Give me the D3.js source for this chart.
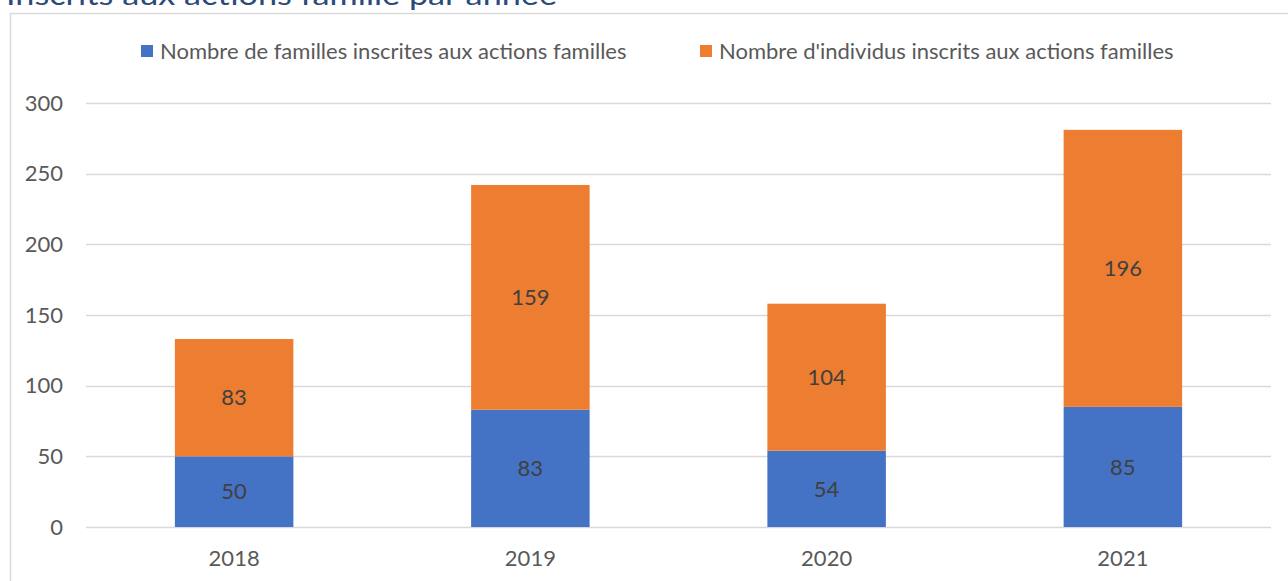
<!DOCTYPE html>
<html>
<head>
<meta charset="utf-8">
<script src="https://cdn.jsdelivr.net/npm/d3@7"></script>
<style>
  body { margin: 0; background: #fff; }
  svg { display: block; font-family: Lato, "Open Sans", sans-serif; }
</style>
</head>
<body>
<svg id="chart" width="1288" height="581"></svg>
<script>
// data
var years = ['2018', '2019', '2020', '2021'];
var familles = [50, 83, 54, 85];
var individus = [83, 159, 104, 196];
var seriesNames = ['Nombre de familles inscrites aux actions familles', "Nombre d'individus inscrits aux actions familles"];
var seriesColors = ['#4472C4', '#ED7D31'];
var yTicks = [0, 50, 100, 150, 200, 250, 300];

var svg = d3.select('#chart');
var textColor = '#595959';
var fontSize = 22;

// title (cut off at the top, as in the source)
svg.append('text')
    .attr('x', 6).attr('y', 5)
    .attr('fill', '#2b4a7c')
    .attr('font-size', 29)
    .attr('textLength', 551)
    .attr('lengthAdjust', 'spacingAndGlyphs')
    .text('Inscrits aux actions famille par année');

// chart frame
svg.append('rect')
    .attr('x', 10.5).attr('y', 13.5)
    .attr('width', 1400).attr('height', 700)
    .attr('fill', 'none')
    .attr('stroke', '#d9d9d9')
    .attr('stroke-width', 1.5);

var x = d3.scaleBand()
    .domain(years)
    .range([86, 1271])
    .paddingInner(0.6)
    .paddingOuter(0.3);

var y = d3.scaleLinear()
    .domain([0, 300])
    .range([527, 103]);

// gridlines
svg.append('g')
    .selectAll('line')
    .data(yTicks)
    .join('line')
    .attr('x1', 86).attr('x2', 1271)
    .attr('y1', function (d) { return Math.round(y(d)) + 0.5; })
    .attr('y2', function (d) { return Math.round(y(d)) + 0.5; })
    .attr('stroke', '#d9d9d9')
    .attr('stroke-width', 1.5);

// y axis labels
var yAxis = svg.append('g')
    .attr('transform', 'translate(63,0)')
    .call(d3.axisLeft(y).tickValues(yTicks).tickSize(0).tickPadding(0));
yAxis.select('.domain').remove();
yAxis.selectAll('text')
    .attr('fill', textColor)
    .attr('font-size', fontSize)
    .attr('font-family', 'Lato, "Open Sans", sans-serif');

// x axis labels
var xAxis = svg.append('g')
    .attr('transform', 'translate(0,550)')
    .call(d3.axisBottom(x).tickSize(0).tickPadding(0));
xAxis.select('.domain').remove();
xAxis.selectAll('text')
    .attr('fill', textColor)
    .attr('font-size', fontSize)
    .attr('font-family', 'Lato, "Open Sans", sans-serif');

// stacked bars
var rows = years.map(function (yr, i) {
    return { year: yr, familles: familles[i], individus: individus[i] };
});
var stack = d3.stack().keys(['familles', 'individus'])(rows);

var layers = svg.append('g')
    .selectAll('g')
    .data(stack)
    .join('g')
    .attr('fill', function (d, i) { return seriesColors[i]; });

layers.selectAll('rect')
    .data(function (d) { return d; })
    .join('rect')
    .attr('x', function (d) { return x(d.data.year); })
    .attr('width', x.bandwidth())
    .attr('y', function (d) { return y(d[1]); })
    .attr('height', function (d) { return y(d[0]) - y(d[1]); });

layers.selectAll('text')
    .data(function (d) { return d; })
    .join('text')
    .attr('x', function (d) { return x(d.data.year) + x.bandwidth() / 2; })
    .attr('y', function (d) { return (y(d[0]) + y(d[1])) / 2; })
    .attr('dy', '0.35em')
    .attr('text-anchor', 'middle')
    .attr('fill', '#404040')
    .attr('font-size', fontSize)
    .text(function (d) { return d[1] - d[0]; });

// legend
var legendX = [141, 700];
var legend = svg.append('g')
    .selectAll('g')
    .data(seriesNames)
    .join('g')
    .attr('transform', function (d, i) { return 'translate(' + legendX[i] + ',45)'; });
legend.append('rect')
    .attr('width', 12).attr('height', 12)
    .attr('fill', function (d, i) { return seriesColors[i]; });
legend.append('text')
    .attr('x', 19).attr('y', 6)
    .attr('dy', '0.35em')
    .attr('fill', textColor)
    .attr('font-size', fontSize)
    .text(function (d) { return d; });
</script>
</body>
</html>
